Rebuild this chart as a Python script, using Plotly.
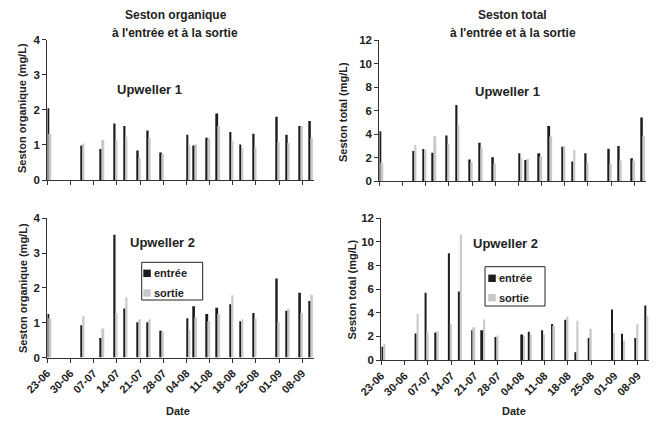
import plotly.graph_objects as go

# ---------------- data ----------------
dates_org = ["2005-06-23", "2005-07-03", "2005-07-09", "2005-07-13", "2005-07-16",
             "2005-07-20", "2005-07-23", "2005-07-27", "2005-08-04", "2005-08-06",
             "2005-08-10", "2005-08-13", "2005-08-17", "2005-08-20", "2005-08-24",
             "2005-08-31", "2005-09-03", "2005-09-07", "2005-09-10"]
dates_tot = ["2005-06-23", "2005-07-03", "2005-07-06", "2005-07-09", "2005-07-13",
             "2005-07-16", "2005-07-20", "2005-07-23", "2005-07-27", "2005-08-04",
             "2005-08-06", "2005-08-10", "2005-08-13", "2005-08-17", "2005-08-20",
             "2005-08-24", "2005-08-31", "2005-09-03", "2005-09-07", "2005-09-10"]

org_up1_entree = [2.04, 0.98, 0.88, 1.61, 1.54, 0.84, 1.41, 0.78, 1.29, 0.98,
                  1.20, 1.89, 1.37, 1.01, 1.32, 1.80, 1.29, 1.54, 1.68]
org_up1_sortie = [1.31, 1.04, 1.14, 1.12, 1.23, 0.63, 1.20, 0.74, 1.00, 1.02,
                  1.18, 1.54, 1.12, 0.91, 0.95, 1.08, 1.05, 1.52, 1.20]
org_up2_entree = [1.25, 0.93, 0.56, 3.53, 1.41, 1.01, 1.01, 0.77, 1.13, 1.47,
                  1.25, 1.43, 1.53, 1.04, 1.28, 2.27, 1.34, 1.86, 1.62]
org_up2_sortie = [1.13, 1.19, 0.83, 1.28, 1.73, 1.10, 1.10, 0.73, 0.80, 1.16,
                  1.04, 1.25, 1.79, 1.10, 1.13, 1.02, 1.40, 1.28, 1.80]

tot_up1_entree = [4.24, 2.55, 2.72, 2.40, 3.88, 6.47, 1.82, 3.25, 2.02, 2.37,
                  1.78, 2.37, 4.68, 2.92, 1.66, 2.37, 2.74, 2.98, 1.94, 5.40]
tot_up1_sortie = [1.55, 3.07, 2.66, 3.80, 3.15, 4.78, 1.62, 2.84, 1.48, 1.96,
                  1.88, 2.08, 3.79, 2.98, 2.64, 1.55, 1.50, 1.74, 1.74, 3.85]
tot_up2_entree = [1.13, 2.25, 5.70, 2.33, 9.05, 5.80, 2.52, 2.52, 1.95, 2.15,
                  2.40, 2.52, 3.05, 3.40, 0.65, 1.87, 4.28, 2.22, 1.87, 4.62]
tot_up2_sortie = [1.35, 3.92, 2.40, 2.43, 3.05, 10.62, 2.77, 3.42, 2.08, 2.04,
                  2.15, 2.15, 2.88, 3.68, 3.32, 2.65, 2.28, 1.63, 3.05, 3.72]

series_names = ["entrée", "sortie"]
panel_titles = ["Seston organique", "Seston total"]
subtitle = "à l'entrée et à la sortie"
y_titles = ["Seston organique (mg/L)", "Seston total (mg/L)"]
upweller_labels = ["Upweller 1", "Upweller 2"]
x_title = "Date"

# ---------------- style ----------------
W, H = 658, 422
C_IN = "#1c1c1c"
C_OUT = "#c8c8c8"
AX = "#333333"
FONT = "Liberation Sans, Arial, sans-serif"
DAY = 86400000
BW = 0.6 * DAY


def px(x):
    return x / W


def py(y):
    return 1 - y / H


fig = go.Figure()

panels = [
    # (dates, entree, sortie, xaxis, yaxis, x0px, x1px, ytop, ybot, ymax, dtick, showlabels)
    (dates_org, org_up1_entree, org_up1_sortie, "x", "y", 47.3, 313.8, 39.5, 180.0, 4, 1, False),
    (dates_tot, tot_up1_entree, tot_up1_sortie, "x2", "y2", 379.3, 645.8, 40.0, 181.0, 12, 2, False),
    (dates_org, org_up2_entree, org_up2_sortie, "x3", "y3", 47.3, 313.8, 218.3, 357.5, 4, 1, True),
    (dates_tot, tot_up2_entree, tot_up2_sortie, "x4", "y4", 381.3, 649.3, 218.3, 360.0, 12, 2, True),
]

for i, (d, vin, vout, xa, ya, x0, x1, yt, yb, ymax, dt, lab) in enumerate(panels):
    fig.add_trace(go.Bar(x=d, y=vin, name=series_names[0], marker_color=C_IN,
                         marker_line_width=0, width=BW, offset=0,
                         xaxis=xa, yaxis=ya, showlegend=False))
    fig.add_trace(go.Bar(x=d, y=vout, name=series_names[1], marker_color=C_OUT,
                         marker_line_width=0, width=BW, offset=BW,
                         xaxis=xa, yaxis=ya, showlegend=False))
    suffix = "" if i == 0 else str(i + 1)
    fig.layout["xaxis" + suffix] = dict(
        domain=[px(x0), px(x1)], anchor=ya, type="date", automargin=False,
        range=["2005-06-23", "2005-09-11 12:00"],
        tick0="2005-06-23", dtick=7 * DAY, tickformat="%d-%m",
        showticklabels=lab, tickangle=-45,
        ticks="outside", ticklen=4, tickcolor=AX, tickwidth=1,
        showline=True, linecolor=AX, linewidth=1, showgrid=False, zeroline=False,
        tickfont=dict(family=FONT, size=11, color="#222", weight="bold"),
    )
    fig.layout["yaxis" + suffix] = dict(
        domain=[py(yb), py(yt)], anchor=xa, range=[0, ymax], dtick=dt, automargin=False,
        ticks="outside", ticklen=4, tickcolor=AX, tickwidth=1,
        showline=True, linecolor=AX, linewidth=1, showgrid=False, zeroline=False,
        tickfont=dict(family=FONT, size=11.5, color="#222", weight="bold"),
    )

ann = []


def text(x, y, s, size=11, angle=0):
    ann.append(dict(x=px(x), y=py(y), xref="paper", yref="paper", text=s,
                    showarrow=False, xanchor="center", yanchor="middle",
                    textangle=angle,
                    font=dict(family=FONT, size=size, color="#222", weight="bold")))


# titles
text(176, 15, panel_titles[0], 12)
text(175, 32.5, subtitle, 12)
text(512, 15, panel_titles[1], 12)
text(512.5, 32.5, subtitle, 12)
# y titles
text(22, 108, y_titles[0], 11, -90)
text(343, 112, y_titles[1], 11, -90)
text(23, 288, y_titles[0], 11, -90)
text(351.5, 290, y_titles[1], 11, -90)
# upweller labels
text(149, 90, upweller_labels[0], 13)
text(507, 91.5, upweller_labels[0], 13)
text(162, 242, upweller_labels[1], 13)
text(505, 243, upweller_labels[1], 13)
# x titles
text(178, 411, x_title, 11)
text(514, 411, x_title, 11)

shapes = []


def legend(bx0, by0, bx1, by1, sx, rows, tx):
    shapes.append(dict(type="rect", xref="paper", yref="paper",
                       x0=px(bx0), x1=px(bx1), y0=py(by1), y1=py(by0),
                       line=dict(color="#222", width=1), fillcolor="white"))
    for (yc, col, name) in rows:
        shapes.append(dict(type="rect", xref="paper", yref="paper",
                           x0=px(sx), x1=px(sx + 7.5), y0=py(yc + 3.7), y1=py(yc - 3.7),
                           line=dict(width=0), fillcolor=col))
        ann.append(dict(x=px(tx), y=py(yc), xref="paper", yref="paper", text=name,
                        showarrow=False, xanchor="left", yanchor="middle",
                        font=dict(family=FONT, size=11, color="#222", weight="bold")))


legend(141.7, 262.3, 202.7, 300.0, 143.3,
       [(273.3, C_IN, series_names[0]), (293.0, C_OUT, series_names[1])], 151.5)
legend(485.0, 266.7, 545.0, 306.0, 488.3,
       [(278.3, C_IN, series_names[0]), (297.7, C_OUT, series_names[1])], 496.5)

fig.update_layout(
    width=W, height=H, margin=dict(l=0, r=0, t=0, b=0),
    paper_bgcolor="white", plot_bgcolor="white",
    barmode="overlay", showlegend=False,
    annotations=ann, shapes=shapes,
    font=dict(family=FONT),
)

fig.write_html(
    "out.html",
    config={"displayModeBar": False},
    post_script="document.body.style.margin='0';document.body.style.padding='0';"
                "document.body.style.overflow='hidden';",
)
